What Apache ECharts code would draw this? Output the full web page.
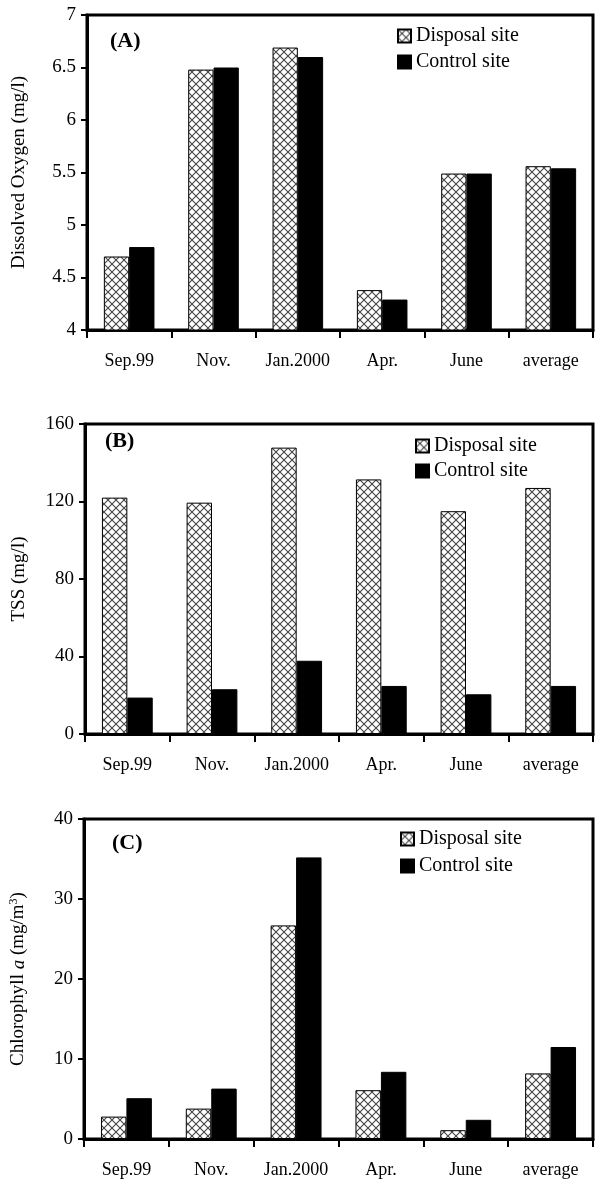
<!DOCTYPE html>
<html><head><meta charset="utf-8">
<script src="https://cdn.jsdelivr.net/npm/echarts@6/dist/echarts.min.js"></script>
<style>html,body{margin:0;padding:0;background:#fff}#c{width:595px;height:1182px}</style>
</head><body><div id="c"></div>
<script>
const categories = ['Sep.99','Nov.','Jan.2000','Apr.','June','average'];
const doDisposal = [4.70, 6.48, 6.69, 4.38, 5.49, 5.56];
const doControl  = [4.79, 6.50, 6.60, 4.29, 5.49, 5.54];
const tssDisposal = [122, 119.4, 147.8, 131.4, 115, 127];
const tssControl  = [18.8, 23.1, 37.8, 24.8, 20.5, 24.8];
const chlDisposal = [2.8, 3.8, 26.7, 6.1, 1.1, 8.2];
const chlControl  = [5.1, 6.3, 35.2, 8.4, 2.4, 11.5];
const seriesNames = ['Disposal site','Control site'];
const panelLabels = ['(A)','(B)','(C)'];

const FONT = '"Liberation Serif", "Times New Roman", serif';

const cv = document.createElement('canvas');
cv.width = 8; cv.height = 8;
const g = cv.getContext('2d');
g.fillStyle = '#fff'; g.fillRect(0,0,8,8);
g.strokeStyle = '#444'; g.lineWidth = 1.1;
g.beginPath();
g.moveTo(0,0); g.lineTo(8,8);
g.moveTo(8,0); g.lineTo(0,8);
g.stroke();
const hatch = {image: cv, repeat: 'repeat'};

const grids = [
  {left: 87, right: 2, top: 15, height: 315},
  {left: 85, right: 2, top: 424, height: 310},
  {left: 82, right: 2, top: 819, height: 320}
];
const yDefs = [
  {min: 4, max: 7, interval: 0.5, name: 'Dissolved Oxygen (mg/l)', gap: 58},
  {min: 0, max: 160, interval: 40, name: 'TSS (mg/l)', gap: 56},
  {min: 0, max: 40, interval: 10, name: '{n|Chlorophyll }{i|a}{n| (mg/m}{s|3}{n|)}', gap: 55}
];
const data = [[doDisposal, doControl],[tssDisposal, tssControl],[chlDisposal, chlControl]];
const legendPos = [{left: 397, top: 26, gap: 6}, {left: 415, top: 436, gap: 5}, {left: 400, top: 829, gap: 7}];
const labelPos = [[110, 30], [105, 430], [112, 832]];

const option = {
  animation: false,
  backgroundColor: '#fff',
  grid: grids.map(gr => Object.assign({show: true, borderColor: '#000', borderWidth: 3, backgroundColor: 'transparent'}, gr)),
  xAxis: grids.map((gr, i) => ({
    type: 'category', gridIndex: i, data: categories,
    axisLine: {lineStyle: {color: '#000', width: 3}},
    axisTick: {show: true, interval: 0, length: 8, lineStyle: {color: '#000', width: 2}},
    axisLabel: {interval: 0, hideOverlap: false, color: '#000', fontFamily: FONT, fontSize: 18, margin: 22}
  })),
  yAxis: yDefs.map((d, i) => ({
    type: 'value', gridIndex: i, min: d.min, max: d.max, interval: d.interval,
    name: d.name, nameLocation: 'middle', nameGap: d.gap, nameRotate: 90,
    nameTextStyle: {color: '#000', fontFamily: FONT, fontSize: 19,
      rich: {n: {fontFamily: FONT, fontSize: 19, color: '#000'},
             i: {fontFamily: FONT, fontSize: 19, fontStyle: 'italic', color: '#000'},
             s: {fontFamily: FONT, fontSize: 12, color: '#000', verticalAlign: 'top', padding: [0,0,9,0]}}},
    splitLine: {show: false},
    axisLine: {show: true, lineStyle: {color: '#000', width: 3}},
    axisTick: {show: true, length: 6, lineStyle: {color: '#000', width: 2}},
    axisLabel: {color: '#000', fontFamily: FONT, fontSize: 19, margin: 11}
  })),
  legend: legendPos.map(p => ({
    data: seriesNames, orient: 'vertical', left: p.left, top: p.top, itemGap: p.gap,
    itemWidth: 13, itemHeight: 13, icon: 'rect', padding: 0,
    textStyle: {color: '#000', fontFamily: FONT, fontSize: 20, lineHeight: 20}
  })),
  graphic: panelLabels.map((t, i) => ({
    type: 'text', left: labelPos[i][0], top: labelPos[i][1],
    style: {text: t, font: 'bold 22px ' + FONT, fill: '#000'}
  })),
  series: []
};
data.forEach((pair, i) => {
  option.series.push({
    name: seriesNames[0], type: 'bar', xAxisIndex: i, yAxisIndex: i, data: pair[0],
    barGap: '0%', barCategoryGap: '40%',
    itemStyle: {color: hatch, borderColor: '#000', borderWidth: 1}
  });
  option.series.push({
    name: seriesNames[1], type: 'bar', xAxisIndex: i, yAxisIndex: i, data: pair[1],
    barGap: '0%', barCategoryGap: '40%',
    itemStyle: {color: '#000', borderColor: '#000', borderWidth: 1}
  });
});
const chart = echarts.init(document.getElementById('c'), null, {renderer: 'canvas'});
chart.setOption(option);
</script></body></html>
